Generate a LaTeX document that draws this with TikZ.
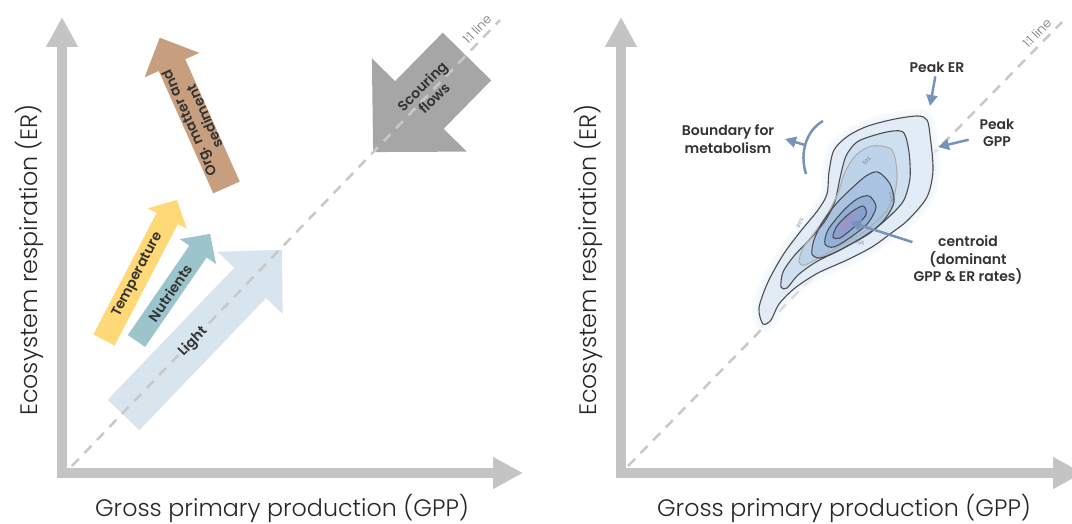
\documentclass[tikz,border=0pt]{standalone}
\usepackage{fontspec}
\IfFontExistsTF{Poppins SemiBold}{\setmainfont{Poppins}[BoldFont={Poppins SemiBold}]}{\setmainfont{Poppins}}
\IfFontExistsTF{Poppins Light}{\newfontfamily\lightfont{Poppins Light}}{\newfontfamily\lightfont{Poppins}}
\usetikzlibrary{arrows.meta}
\definecolor{axisgray}{HTML}{C4C4C4}
\definecolor{dashgray}{HTML}{C8C8C8}
\definecolor{lightblue}{HTML}{D8E5EF}
\definecolor{tempyellow}{HTML}{FFD878}
\definecolor{nutteal}{HTML}{9CC5CB}
\definecolor{orgbrown}{HTML}{C89F7E}
\definecolor{scourgray}{HTML}{A6A6A6}
\definecolor{txtdark}{HTML}{333333}
\definecolor{annotblue}{HTML}{7893BA}
\definecolor{contourgray}{HTML}{4D4D4D}
\definecolor{blob0}{HTML}{EEF4FA}
\definecolor{blob1}{HTML}{E2ECF6}
\definecolor{blob2}{HTML}{CEDFEF}
\definecolor{blob2b}{HTML}{BDD3EA}
\definecolor{blob3}{HTML}{A9C4E3}
\definecolor{blob4}{HTML}{93B0D8}
\definecolor{blob5}{HTML}{8A9FCF}
\definecolor{blob6}{HTML}{9A97C8}
% block arrow: x, y (tail centre), angle, length, half shaft, half head, head length, colour
\newcommand{\blockarrow}[8]{%
  \fill[#8,shift={(#1,#2)},rotate=#3] (0,-#5) -- (#4-#7,-#5) -- (#4-#7,-#6) -- (#4,0)
    -- (#4-#7,#6) -- (#4-#7,#5) -- (0,#5) -- cycle;}
\begin{document}
\begin{tikzpicture}[x=1pt, y=-1pt, line join=round, >={Triangle[length=11pt,width=11pt]},
  lbl/.style={font=\bfseries\fontsize{14}{17}\selectfont, text=txtdark, align=center, inner sep=1pt},
  rlbl/.style={font=\bfseries\fontsize{14}{17.5}\selectfont, text=txtdark, align=center, inner sep=1pt},
  axlbl/.style={font=\lightfont\fontsize{23.8}{28}\selectfont, text=black!85, inner sep=0pt},
  axis/.style={line width=10pt, draw=axisgray, line join=miter,
    {Triangle[width=30pt,length=30pt]}-{Triangle[width=30pt,length=30pt]}},
  oneone/.style={draw=dashgray, line width=2.5pt, dash pattern=on 10pt off 8pt},
  onelbl/.style={font=\lightfont\fontsize{12.5}{12.5}\selectfont, text=black!55, inner sep=0pt},
  annot/.style={draw=annotblue, line width=2.5pt, ->},
  cline/.style={draw=contourgray, line width=1.1pt},
  pct/.style={font=\lightfont\fontsize{5}{5}\selectfont, text=black!60, inner sep=0pt}]
\useasboundingbox (0,0) rectangle (1072,524);

% ---- left panel
\draw[axis] (62,17) -- (62,473) -- (523,473);
\node[axlbl] (gppL) at (282,508) {Gross primary production (GPP)};
\node[axlbl, rotate=90] (erL) at (29,260) {Ecosystem respiration (ER)};

\blockarrow{123.5}{415}{46.2}{229}{22}{45}{46}{lightblue}
\blockarrow{104}{340}{62.5}{158}{12}{22}{21}{tempyellow}
\blockarrow{136.5}{341}{55.5}{130}{10.5}{22}{21.5}{nutteal}
\blockarrow{226.5}{187.5}{114}{164}{14.5}{30}{30}{orgbrown}
\blockarrow{467}{56.5}{225.5}{134}{34}{66.5}{66}{scourgray}

\draw[oneone] (72,466) -- (500,20);
\node[onelbl, rotate=46] (oneL) at (477,29) {1:1 line};

\node[lbl, rotate=46] (light) at (193,342) {Light};
\node[lbl, rotate=62.5] (temp) at (138,275) {Temperature};
\node[lbl, rotate=55.5] (nutr) at (170,293) {Nutrients};
\node[lbl, rotate=114] (orgm) at (197,120) {Org. matter and\\sediment};
\node[lbl, rotate=45] (scour) at (428,92) {Scouring\\flows};

% ---- right panel
\draw[axis] (621,17) -- (621,473) -- (1083,473);
\node[axlbl] (gppR) at (844,508) {Gross primary production (GPP)};
\node[axlbl, rotate=90] (erR) at (588,260) {Ecosystem respiration (ER)};

\draw[oneone] (628,466) -- (1062,22);
\node[onelbl, rotate=45.7] (oneR) at (1037,33) {1:1 line};

% density of GPP and ER
\def\cone{(927,120) (930,135) (933,170) (927,197) (908,220) (890,234) (872,247) (847,260)
  (818,273) (795,288) (779,304) (771,320) (763,324) (759,308) (768,282) (783,255) (800,232)
  (818,210) (827,194) (829,172) (834,150) (848,136) (868,126) (895,119) (918,116)}
\def\ctwo{(904,133) (909,152) (910,178) (904,200) (892,214) (876,228) (858,240) (838,251)
  (816,262) (798,275) (787,288) (781,287) (783,272) (794,256) (809,240) (825,221) (835,201)
  (840,178) (846,156) (857,142) (875,135) (893,131)}
\def\ctwob{(892,150) (897,175) (893,200) (880,218) (862,233) (842,245) (822,256) (805,265)
  (799,262) (803,248) (815,232) (828,213) (838,193) (845,172) (856,155) (872,146)}
\def\cthree{(878,172) (890,184) (894,202) (885,219) (870,233) (853,243) (836,252) (820,258)
  (812,254) (814,240) (822,223) (836,204) (852,188) (866,176)}
\def\cfour{(869,196) (876,207) (868,223) (851,237) (834,247) (825,244) (828,230) (843,211) (857,199)}
\def\cfive{(863,206) (866,215) (853,228) (840,238) (833,237) (837,226) (850,213)}
\filldraw[draw=blob0, fill=blob0, line width=14pt, opacity=0.45] plot[smooth cycle] coordinates \cone;
\filldraw[draw=blob0, fill=blob0, line width=7pt, opacity=0.7] plot[smooth cycle] coordinates \cone;
\fill[blob1] plot[smooth cycle] coordinates \cone;
\fill[blob2] plot[smooth cycle] coordinates \ctwo;
\fill[blob2b] plot[smooth cycle] coordinates \ctwob;
\fill[blob3] plot[smooth cycle] coordinates \cthree;
\fill[blob4] plot[smooth cycle] coordinates \cfour;
\fill[blob5] plot[smooth cycle] coordinates \cfive;
\fill[blob6] (848,222) ellipse[x radius=9, y radius=4, rotate=55];
\draw[cline] plot[smooth cycle] coordinates \cone;
\draw[cline] plot[smooth cycle] coordinates \ctwo;
\draw[cline, draw=contourgray!45] plot[smooth cycle] coordinates \ctwob;
\draw[cline] plot[smooth cycle] coordinates \cthree;
\draw[cline] plot[smooth cycle] coordinates \cfour;
\draw[cline] plot[smooth cycle] coordinates \cfive;
\node[pct, rotate=60] (p90) at (800,223) {90\%};
\node[pct, rotate=45] (p50) at (867,161) {50\%};
\node[pct, rotate=-80] (p25) at (892,197) {25\%};
\node[pct, rotate=-10] (p75) at (860,243) {75\%};

% labels and pointers
\node[rlbl] (peaker) at (937,67) {Peak ER};
\node[rlbl] (peakgpp) at (997,133) {Peak\\GPP};
\node[rlbl] (boundary) at (728,139) {Boundary for\\metabolism};
\node[rlbl] (centroid) at (968,260) {centroid\\(dominant\\GPP \& ER rates)};
\coordinate (ertip) at (930,106);
\coordinate (gpptip) at (938,147);
\coordinate (cen) at (850,222);
\coordinate (bmid) at (805,145);
\coordinate (btip) at (785,139);
\draw[annot, shorten <=3pt] (peaker) -- (ertip);
\draw[annot, shorten <=10pt] (peakgpp) -- (gpptip);
\draw[annot] (centroid) -- (cen);
\draw[draw=annotblue, line width=2.5pt] (823,121) .. controls (807,130) and (799,152) .. (806,174);
\draw[annot] (bmid) -- (btip);
\end{tikzpicture}
\end{document}
